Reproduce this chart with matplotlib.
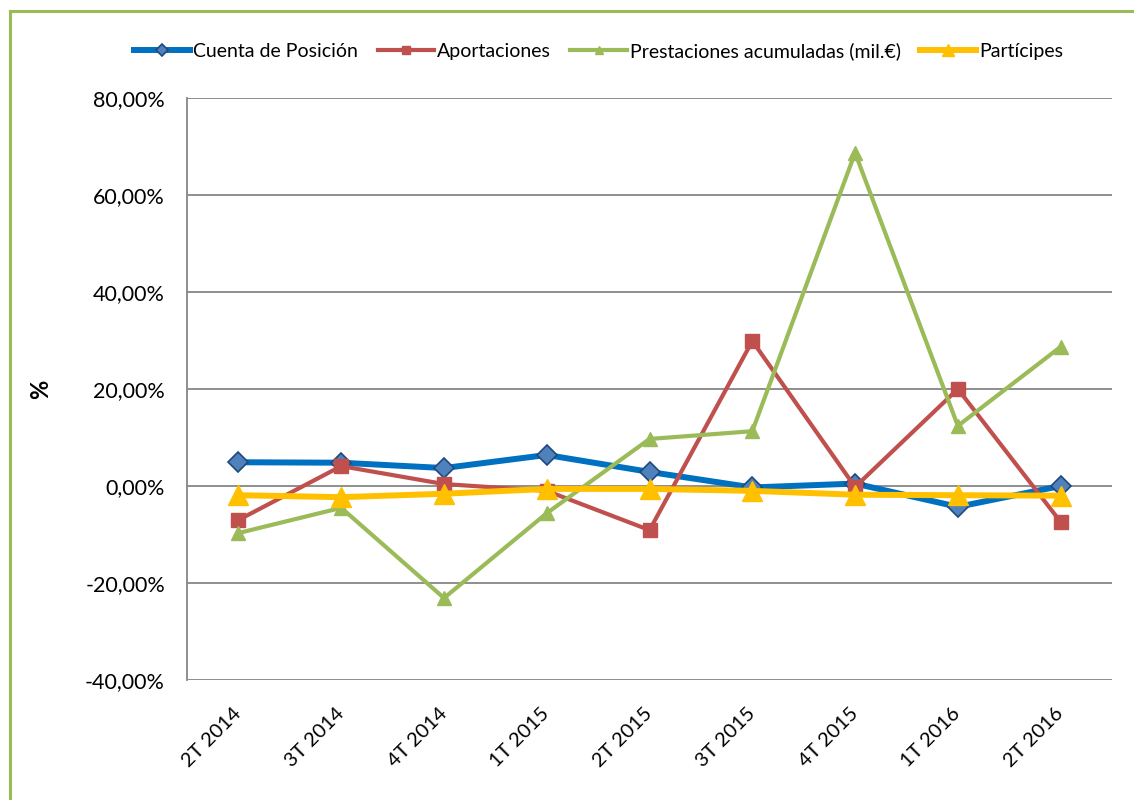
import matplotlib.pyplot as plt
from matplotlib.patches import Rectangle
from matplotlib.ticker import FuncFormatter

plt.rcParams['font.family'] = ['Lato', 'DejaVu Sans']

# Trimestres
periodos = ["2T 2014", "3T 2014", "4T 2014", "1T 2015", "2T 2015",
            "3T 2015", "4T 2015", "1T 2016", "2T 2016"]

# Variaciones (%)
cuenta_posicion = [4.9, 4.8, 3.7, 6.4, 2.9, -0.3, 0.5, -4.3, 0.0]
aportaciones = [-7.0, 4.1, 0.4, -1.0, -9.1, 29.9, -0.2, 20.0, -7.4]
prestaciones = [-9.7, -4.5, -23.1, -5.6, 9.7, 11.3, 68.7, 12.4, 28.7]
participes = [-1.9, -2.3, -1.6, -0.6, -0.6, -1.0, -1.8, -1.9, -2.0]

fig = plt.figure(figsize=(11.34, 8), dpi=100)
ax = fig.add_axes([0.165, 0.15, 0.8156, 0.7275])

x = range(len(periodos))
ax.plot(x, cuenta_posicion, color="#0070C0", lw=4.3, marker="D", ms=10,
        mfc="#4F81BD", mec="#1F497D", mew=1.2, label="Cuenta de Posición")
ax.plot(x, aportaciones, color="#C0504D", lw=3, marker="s", ms=10,
        mfc="#C0504D", mec="#C0504D", label="Aportaciones")
ax.plot(x, prestaciones, color="#9BBB59", lw=3, marker="^", ms=10,
        mfc="#9BBB59", mec="#9BBB59", label="Prestaciones acumuladas (mil.€)")
ax.plot(x, participes, color="#FFC000", lw=4.3, marker="^", ms=14,
        mfc="#FFC000", mec="#FFC000", label="Partícipes")

ax.set_xlim(-0.5, len(periodos) - 0.5)
ax.set_ylim(-40, 80)
ax.set_yticks(range(-40, 81, 20))
ax.yaxis.set_major_formatter(FuncFormatter(lambda v, p: f"{v:.2f}%".replace(".", ",")))
ax.set_xticks(list(x))
ax.tick_params(axis="x", length=0, pad=22, labelsize=14.5)
ax.tick_params(axis="y", length=0, pad=16, labelsize=15.5)
ax.set_xticklabels(periodos, rotation=45, ha="right", va="center",
                   rotation_mode="anchor")

ax.grid(axis="y", color="#868686", lw=1.3)
ax.set_axisbelow(True)
for s in ["top", "right", "bottom"]:
    ax.spines[s].set_visible(False)
ax.spines["left"].set_color("#868686")
ax.spines["left"].set_linewidth(1.3)

ax.set_ylabel("%", fontsize=17, fontweight="bold", labelpad=24)

fig.legend(loc="center", bbox_to_anchor=(0.528, 0.936), ncol=4, frameon=False,
           fontsize=14, handlelength=2.9, columnspacing=1.0, handletextpad=0.15,
           markerscale=0.6)

# marco verde del gráfico
fig.patches.append(Rectangle((10 / 1134, -0.05), 1.1, 0.05 + 1 - 11 / 800,
                             transform=fig.transFigure, fill=False,
                             edgecolor="#9BBB59", lw=2.2))

fig.savefig("out.png", dpi=100)
